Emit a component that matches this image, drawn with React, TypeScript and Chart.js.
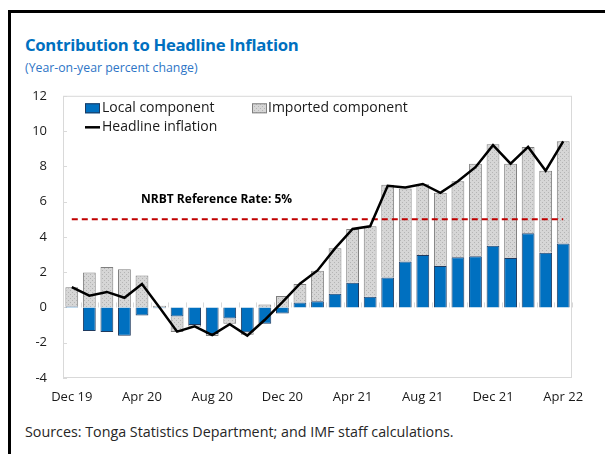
import { useEffect, useRef } from "react";
import { Chart, registerables } from "chart.js";
Chart.register(...registerables);

const months = ["Dec 19","Jan 20","Feb 20","Mar 20","Apr 20","May 20","Jun 20","Jul 20","Aug 20","Sep 20","Oct 20","Nov 20","Dec 20","Jan 21","Feb 21","Mar 21","Apr 21","May 21","Jun 21","Jul 21","Aug 21","Sep 21","Oct 21","Nov 21","Dec 21","Jan 22","Feb 22","Mar 22","Apr 22"];

const localComponent = [0.05,-1.33,-1.39,-1.61,-0.45,-0.05,-0.52,-1.0,-1.5,-0.63,-1.4,-0.92,-0.35,0.28,0.35,0.77,1.4,0.6,1.7,2.6,2.98,2.35,2.85,2.9,3.5,2.8,4.2,3.1,3.63];
const importedComponent = [1.1,1.98,2.29,2.17,1.81,0.1,-0.87,-0.1,-0.12,-0.3,-0.15,0.17,0.65,1.05,1.73,2.58,3.05,4.0,5.25,4.15,4.0,4.15,4.3,5.25,5.75,5.35,4.9,4.65,5.8];
const headlineInflation = [1.15,0.67,0.88,0.55,1.33,0.0,-1.37,-1.07,-1.57,-0.95,-1.6,-0.7,0.3,1.35,2.1,3.35,4.45,4.6,6.9,6.8,7.0,6.5,7.15,7.95,9.2,8.15,9.1,7.75,9.42];
const referenceRate = 5;
const referenceLabel = "NRBT Reference Rate: 5%";
const yTicks = [-4, -2, 0, 2, 4, 6, 8, 10, 12];

const FONT = "'Open Sans', 'Noto Sans', sans-serif";

function makeGrayPattern(): CanvasPattern | string {
  const c = document.createElement("canvas");
  c.width = 4;
  c.height = 4;
  const g = c.getContext("2d");
  if (!g) return "#CFCFCF";
  g.fillStyle = "#D6D6D6";
  g.fillRect(0, 0, 4, 4);
  g.fillStyle = "#B4B4B4";
  g.fillRect(0, 0, 1, 1);
  g.fillRect(2, 2, 1, 1);
  const p = g.createPattern(c, "repeat");
  return p || "#CFCFCF";
}

const framePlugin = {
  id: "frameAndExtras",
  beforeDatasetsDraw(chart: any) {
    const { ctx, chartArea, scales } = chart;
    ctx.save();
    ctx.strokeStyle = "#D9D9D9";
    ctx.lineWidth = 1;
    ctx.strokeRect(chartArea.left + 0.5, chartArea.top + 0.5, chartArea.right - chartArea.left - 1, chartArea.bottom - chartArea.top - 1);
    for (const v of yTicks) {
      const y = Math.round(scales.y.getPixelForValue(v)) + 0.5;
      ctx.beginPath();
      ctx.moveTo(chartArea.left, y);
      ctx.lineTo(chartArea.left + 4, y);
      ctx.stroke();
    }
    const y0 = scales.y.getPixelForValue(0);
    for (let i = 0; i <= months.length; i++) {
      const x = Math.round(scales.x.getPixelForValue(i - 0.5)) + 0.5;
      ctx.beginPath();
      ctx.moveTo(x, y0);
      ctx.lineTo(x, y0 - 5);
      ctx.stroke();
    }
    ctx.restore();
  },
  afterDraw(chart: any) {
    const { ctx, chartArea, scales } = chart;
    ctx.save();
    ctx.font = `bold 12px ${FONT}`;
    ctx.fillStyle = "#000000";
    ctx.textAlign = "center";
    ctx.textBaseline = "middle";
    ctx.fillText(referenceLabel, scales.x.getPixelForValue(8.25), scales.y.getPixelForValue(6.1));

    const ds = chart.data.datasets;
    const local = ds.find((d: any) => d.label === "Local component");
    const imported = ds.find((d: any) => d.label === "Imported component");
    const headline = ds.find((d: any) => d.label === "Headline inflation");
    const L = chartArea.left;
    const T = chartArea.top;
    ctx.font = `14px ${FONT}`;
    ctx.textAlign = "left";
    const row1 = T + 12.5;
    const row2 = T + 31.5;
    ctx.fillStyle = local.backgroundColor;
    ctx.fillRect(L + 22, row1 - 5, 15, 10);
    ctx.strokeStyle = local.borderColor;
    ctx.lineWidth = 1;
    ctx.strokeRect(L + 22.5, row1 - 4.5, 14, 9);
    ctx.fillStyle = "#1A1A1A";
    ctx.fillText(local.label, L + 39, row1);
    ctx.fillStyle = imported.backgroundColor;
    ctx.fillRect(L + 189, row1 - 5, 15, 10);
    ctx.strokeStyle = imported.borderColor;
    ctx.strokeRect(L + 189.5, row1 - 4.5, 14, 9);
    ctx.fillStyle = "#1A1A1A";
    ctx.fillText(imported.label, L + 205, row1);
    ctx.strokeStyle = headline.borderColor;
    ctx.lineWidth = 2.5;
    ctx.beginPath();
    ctx.moveTo(L + 22, row2);
    ctx.lineTo(L + 37, row2);
    ctx.stroke();
    ctx.fillText(headline.label, L + 39, row2);
    ctx.restore();
  },
};

function InflationChart() {
  const ref = useRef<HTMLCanvasElement | null>(null);
  useEffect(() => {
    if (!ref.current) return;
    const gray = makeGrayPattern();
    const chart = new Chart(ref.current, {
      type: "bar",
      data: {
        labels: months,
        datasets: [
          {
            type: "line",
            label: "Headline inflation",
            data: headlineInflation,
            borderColor: "#000000",
            backgroundColor: "#000000",
            borderWidth: 2.5,
            pointRadius: 0,
            tension: 0,
            stack: "headline",
            order: 0,
          } as any,
          {
            type: "line",
            label: "Reference rate",
            data: months.map(() => referenceRate),
            borderColor: "#C00000",
            borderWidth: 2.2,
            borderDash: [6, 4],
            pointRadius: 0,
            stack: "ref",
            order: 1,
          } as any,
          {
            type: "bar",
            label: "Local component",
            data: localComponent,
            backgroundColor: "#0070C0",
            borderColor: "#1F3A5F",
            borderWidth: 1,
            stack: "bars",
            order: 2,
            barPercentage: 0.73,
            categoryPercentage: 1,
          },
          {
            type: "bar",
            label: "Imported component",
            data: importedComponent,
            backgroundColor: gray as any,
            borderColor: "#7F7F7F",
            borderWidth: 1,
            stack: "bars",
            order: 3,
            barPercentage: 0.73,
            categoryPercentage: 1,
          },
        ],
      },
      options: {
        animation: false,
        responsive: false,
        maintainAspectRatio: false,
        layout: { padding: { left: 0, right: 23, top: 10, bottom: 2 } },
        plugins: { legend: { display: false }, tooltip: { enabled: false } },
        scales: {
          x: {
            stacked: true,
            grid: { display: false, drawTicks: false },
            border: { display: false },
            ticks: {
              autoSkip: false,
              maxRotation: 0,
              minRotation: 0,
              padding: 11,
              color: "#1A1A1A",
              font: { family: FONT, size: 13 },
              callback: (_v: any, i: number) => (i % 4 === 0 ? months[i] : ""),
            },
            afterFit: (s: any) => { s.height = 30; },
          },
          y: {
            stacked: true,
            min: -4,
            max: 12,
            grid: { display: false, drawTicks: false },
            border: { display: false },
            ticks: {
              stepSize: 2,
              padding: 16,
              color: "#1A1A1A",
              font: { family: FONT, size: 13 },
            },
            afterFit: (s: any) => { s.width = 63; },
          },
        },
      },
      plugins: [framePlugin],
    });
    return () => chart.destroy();
  }, []);
  return <canvas ref={ref} width={595} height={338} style={{ position: "absolute", left: 0, top: 72, width: 595, height: 338 }} />;
}

export default function App() {
  return (
    <div>
      <div style={{ position: "absolute", left: 8, top: 10, width: 597, height: 444, boxSizing: "border-box", borderTop: "3px solid #000", borderLeft: "3px solid #000" }} />
      <div style={{ position: "absolute", left: 25, top: 35, fontFamily: FONT, fontWeight: 700, fontSize: 16.7, lineHeight: "20px", color: "#0070C0", whiteSpace: "nowrap", letterSpacing: -0.3 }}>
        Contribution to Headline Inflation
      </div>
      <div style={{ position: "absolute", left: 25, top: 60, fontFamily: FONT, fontSize: 12.3, lineHeight: "16px", color: "#2E75C6", whiteSpace: "nowrap" }}>
        (Year-on-year percent change)
      </div>
      <InflationChart />
      <div style={{ position: "absolute", left: 25, top: 423, fontFamily: FONT, fontSize: 14.3, lineHeight: "18px", color: "#262626", whiteSpace: "nowrap" }}>
        Sources: Tonga Statistics Department; and IMF staff calculations.
      </div>
    </div>
  );
}
